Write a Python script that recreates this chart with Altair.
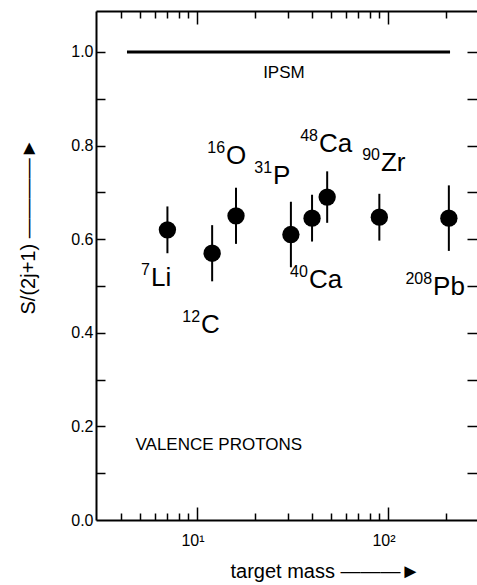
import altair as alt
import pandas as pd

# ---------------- data ----------------
isotope_mass = [7, 12, 16, 31, 40, 48, 90, 208]
isotope_A = ["7", "12", "16", "31", "40", "48", "90", "208"]
isotope_symbol = ["Li", "C", "O", "P", "Ca", "Ca", "Zr", "Pb"]
sf_value = [0.62, 0.57, 0.65, 0.61, 0.645, 0.69, 0.647, 0.645]
sf_error = [0.05, 0.06, 0.06, 0.07, 0.05, 0.055, 0.05, 0.07]
label_mass = [5.74, 10.5, 14.2, 25.0, 38.5, 43.5, 91.8, 172.0]
label_value = [0.500, 0.400, 0.761, 0.718, 0.496, 0.786, 0.746, 0.481]

ipsm_mass_range = [4.3, 211.0]
ipsm_value = [1.0]
ipsm_text = ["IPSM"]
ipsm_text_mass = [28.5]
ipsm_text_value = [0.944]
note_text = ["VALENCE PROTONS"]
note_mass = [13.0]
note_value = [0.16]

x_major_ticks = [10, 100]
x_major_labels = ["10¹", "10²"]
x_minor_ticks = [4, 5, 6, 7, 8, 9, 20, 30, 40, 50, 60, 70, 80, 90, 200]
y_label_ticks = [0.0, 0.2, 0.4, 0.6, 0.8, 1.0]
y_all_ticks = [0.1, 0.2, 0.3, 0.4, 0.5, 0.6, 0.7, 0.8, 0.9, 1.0]

x_title = "target mass ———►"
y_title = "S/(2j+1) ————►"

# ---------------- tables ----------------
pts = pd.DataFrame({
    "mass": isotope_mass,
    "value": sf_value,
    "lo": [v - e for v, e in zip(sf_value, sf_error)],
    "hi": [v + e for v, e in zip(sf_value, sf_error)],
})
labels = pd.DataFrame({
    "mass": label_mass,
    "value": label_value,
    "A": isotope_A,
    "sym": isotope_symbol,
})
ipsm = pd.DataFrame({"m1": [ipsm_mass_range[0]], "m2": [ipsm_mass_range[1]], "value": ipsm_value})
ipsm_lab = pd.DataFrame({"mass": ipsm_text_mass, "value": ipsm_text_value, "t": ipsm_text})
note = pd.DataFrame({"mass": note_mass, "value": note_value, "t": note_text})

FONT = "Liberation Sans"
xs = alt.Scale(type="log", domain=[2.96, 292], nice=False)
ys = alt.Scale(domain=[0, 1.0876], nice=False, zero=False)

label_expr = " : ".join(
    f"datum.value == {v} ? '{l}'" for v, l in zip(x_major_ticks, x_major_labels)
) + " : ''"

common = dict(grid=False, tickColor="black", domainColor="black", labelColor="black",
              titleColor="black")

ax_x_main = alt.Axis(orient="bottom", values=x_major_ticks, labelExpr=label_expr, ticks=False,
                     tickSize=0, domain=True, domainWidth=2, labelFontSize=16, labelFont=FONT,
                     labelAlign="right", labelOffset=7, labelPadding=12, labelBaseline="top",
                     title=x_title, titleFontSize=20, titleFont=FONT, titleFontWeight="normal",
                     titleAlign="left", titleAnchor="start", titleX=134, titleY=57,
                     titleBaseline="alphabetic", **common)
ax_y_main = alt.Axis(orient="left", values=y_label_ticks, format=".1f", ticks=False, tickSize=0,
                     domain=True, domainWidth=2, labelFontSize=16, labelFont=FONT,
                     labelPadding=3, labelBaseline="middle",
                     title=y_title, titleFontSize=20, titleFont=FONT, titleFontWeight="normal",
                     titleAngle=270, titleAlign="center", titleX=-62, titleY=215,
                     titleBaseline="alphabetic", **common)


def tick_axis(orient, values, size):
    return alt.Axis(orient=orient, values=values, ticks=True, tickSize=size, tickWidth=1.5,
                    offset=-size, domain=False, labels=False, title=None, **common)


ax_x_bot_major = tick_axis("bottom", x_major_ticks, 13)
ax_x_bot_minor = tick_axis("bottom", x_minor_ticks, 7)
ax_x_top_major = tick_axis("top", x_major_ticks, 13)
ax_x_top_minor = tick_axis("top", x_minor_ticks, 7)
ax_y_left = tick_axis("left", y_all_ticks, 9)
ax_y_right = tick_axis("right", y_all_ticks, 10)
ax_x_top_domain = alt.Axis(orient="top", values=x_major_ticks, ticks=False, tickSize=0, labels=False,
                           domain=True, domainWidth=2, title=None, **common)

errbars = alt.Chart(pts).mark_rule(color="black", strokeWidth=2).encode(
    x=alt.X("mass:Q", scale=xs, axis=ax_x_main),
    y=alt.Y("lo:Q", scale=ys, axis=ax_y_main),
    y2="hi:Q",
)
dots = alt.Chart(pts).mark_circle(size=300, color="black", opacity=1).encode(
    x=alt.X("mass:Q", scale=xs, axis=ax_x_bot_major),
    y=alt.Y("value:Q", scale=ys, axis=ax_y_left),
)
sym = alt.Chart(labels).mark_text(font=FONT, fontSize=26, align="left", baseline="alphabetic",
                                  color="black").encode(
    x=alt.X("mass:Q", scale=xs, axis=ax_x_bot_minor),
    y=alt.Y("value:Q", scale=ys, axis=ax_y_right),
    text="sym:N",
)
sup = alt.Chart(labels).mark_text(font=FONT, fontSize=16, align="right", baseline="alphabetic",
                                  dx=-1, dy=-11, color="black").encode(
    x=alt.X("mass:Q", scale=xs, axis=ax_x_top_domain),
    y=alt.Y("value:Q", scale=ys, axis=None),
    text="A:N",
)
ipsm_line = alt.Chart(ipsm).mark_rule(color="black", strokeWidth=3).encode(
    x=alt.X("m1:Q", scale=xs, axis=ax_x_top_major),
    x2="m2:Q",
    y=alt.Y("value:Q", scale=ys, axis=None),
)
ipsm_t = alt.Chart(ipsm_lab).mark_text(font=FONT, fontSize=17, align="center", baseline="alphabetic",
                                       color="black").encode(
    x=alt.X("mass:Q", scale=xs, axis=ax_x_top_minor),
    y=alt.Y("value:Q", scale=ys, axis=None),
    text="t:N",
)
note_t = alt.Chart(note).mark_text(font=FONT, fontSize=17, align="center", baseline="middle",
                                   color="black").encode(
    x=alt.X("mass:Q", scale=xs, axis=None),
    y=alt.Y("value:Q", scale=ys, axis=None),
    text="t:N",
)

chart = alt.layer(errbars, dots, sym, sup, ipsm_line, ipsm_t, note_t).resolve_axis(
    x="independent", y="independent"
).properties(
    width=381, height=509,
    autosize=alt.AutoSizeParams(type="none"),
    padding={"left": 96, "top": 11, "right": 0, "bottom": 65},
    background="white",
).configure_view(stroke=None).configure(font=FONT)

chart.save("out.html", embed_options={"renderer": "svg", "actions": False})
